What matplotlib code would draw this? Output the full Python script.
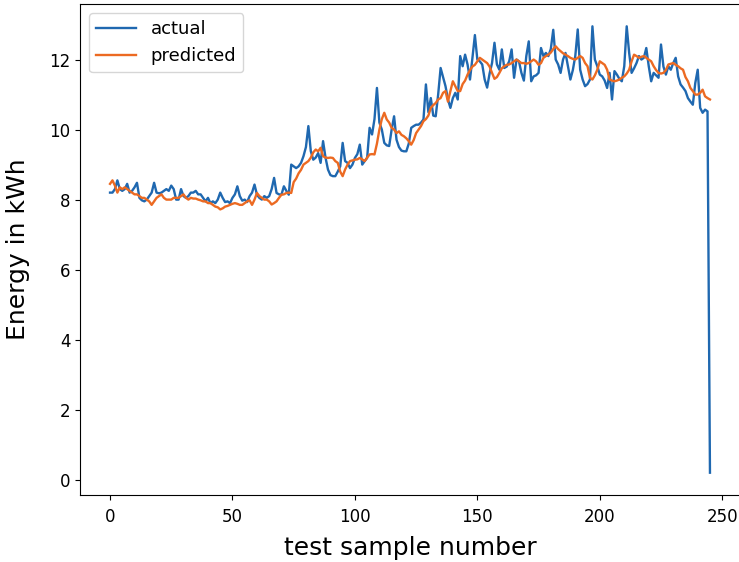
import numpy as np
import matplotlib
matplotlib.use("Agg")
import matplotlib.pyplot as plt

# values, index 0..245
actual = [
    8.2, 8.2, 8.3, 8.55, 8.3, 8.25, 8.3, 8.45, 8.2, 8.25,
    8.35, 8.48, 8.05, 7.98, 7.95, 8.0, 8.1, 8.2, 8.48, 8.2,
    8.18, 8.2, 8.25, 8.3, 8.25, 8.4, 8.3, 8.0, 8.0, 8.3,
    8.1, 8.05, 8.1, 8.2, 8.2, 8.25, 8.15, 8.15, 8.05, 7.95,
    8.05, 7.9, 7.95, 7.9, 8.0, 8.2, 8.05, 7.93, 7.95, 7.9,
    8.05, 8.15, 8.38, 8.1, 7.97, 8.0, 7.93, 8.1, 8.2, 8.43,
    8.14, 8.05, 8.0, 8.1, 8.05, 8.1, 8.3, 8.62, 8.19, 8.15,
    8.14, 8.38, 8.25, 8.14, 9.0, 8.95, 8.9, 8.95, 9.05, 9.24,
    9.5, 10.1, 9.38, 9.14, 9.2, 9.33, 9.05, 9.67, 9.2, 8.86,
    8.7, 8.67, 8.67, 8.8, 8.95, 9.62, 9.1, 9.05, 8.9, 9.0,
    9.19, 9.3, 9.57, 9.0, 9.1, 9.19, 10.05, 9.86, 10.3, 11.19,
    10.2, 10.0, 9.62, 9.55, 9.53, 10.0, 10.38, 9.71, 9.5, 9.4,
    9.38, 9.38, 9.6, 10.05, 10.1, 10.14, 10.14, 10.2, 10.29, 11.29,
    10.5, 10.9, 10.4, 10.38, 11.0, 11.76, 11.5, 11.24, 10.86, 10.62,
    10.9, 11.05, 10.86, 12.1, 11.81, 12.14, 11.86, 11.43, 12.05, 12.7,
    12.0, 11.95, 11.86, 11.43, 11.2, 11.6, 11.9, 12.48, 11.86, 11.71,
    12.29, 11.76, 11.8, 11.95, 12.29, 11.48, 12.0, 11.95, 11.62, 11.4,
    12.1, 12.52, 11.38, 11.52, 11.55, 11.62, 12.33, 12.1, 12.19, 12.1,
    12.3, 12.85, 12.0, 11.86, 11.62, 12.0, 12.19, 11.81, 11.43, 11.7,
    12.1, 12.86, 11.71, 11.43, 11.24, 11.3, 11.43, 12.95, 12.0, 11.81,
    11.57, 11.52, 11.4, 11.19, 11.62, 10.86, 11.67, 11.57, 11.45, 11.38,
    11.81, 12.95, 12.19, 11.62, 11.75, 11.9, 12.1, 12.0, 12.05, 12.33,
    11.81, 11.38, 11.62, 11.55, 11.48, 12.43, 11.8, 11.57, 11.81, 11.71,
    11.9, 12.05, 11.52, 11.29, 11.2, 11.1, 10.9, 10.8, 10.71, 11.33,
    11.71, 10.62, 10.48, 10.57, 10.52, 0.2,
]

predicted = [
    8.45, 8.55, 8.4, 8.2, 8.35, 8.3, 8.35, 8.3, 8.25, 8.2,
    8.15, 8.15, 8.1, 8.05, 8.05, 8.0, 7.95, 7.85, 7.95, 8.05,
    8.1, 8.15, 8.05, 8.0, 8.0, 8.0, 8.05, 8.05, 8.05, 8.1,
    8.15, 8.05, 8.0, 8.05, 8.03, 8.03, 8.0, 7.98, 7.95, 7.95,
    7.9, 7.9, 7.85, 7.8, 7.78, 7.72, 7.75, 7.8, 7.82, 7.85,
    7.88, 7.9, 7.88, 7.85, 7.85, 7.9, 7.95, 7.98, 7.85, 8.0,
    8.19, 8.1, 8.05, 8.0, 8.0, 7.95, 7.86, 7.9, 7.95, 8.05,
    8.14, 8.15, 8.19, 8.2, 8.19, 8.5, 8.6, 8.75, 8.85, 9.0,
    9.05, 9.1, 9.2, 9.35, 9.43, 9.38, 9.48, 9.24, 9.2, 9.19,
    9.2, 9.19, 9.1, 9.05, 8.8, 8.67, 8.86, 9.0, 9.1, 9.12,
    9.14, 9.15, 9.19, 9.15, 9.1, 9.2, 9.29, 9.3, 9.29, 9.6,
    10.0, 10.3, 10.48, 10.29, 10.2, 10.05, 10.0, 9.9, 9.95, 9.85,
    9.81, 9.75, 9.67, 9.57, 9.7, 9.9, 10.0, 10.1, 10.24, 10.3,
    10.4, 10.62, 10.7, 10.76, 10.86, 10.9, 11.05, 11.1, 10.8, 11.1,
    11.38, 11.24, 11.1, 11.1, 11.3, 11.4, 11.57, 11.7, 11.8, 11.85,
    11.95, 12.05, 12.0, 11.95, 11.9, 11.8, 11.62, 11.45, 11.5, 11.62,
    11.75, 11.81, 11.85, 11.86, 11.9, 11.95, 12.0, 11.95, 11.9, 11.9,
    11.88, 11.9, 11.95, 12.0, 11.95, 11.85, 11.9, 12.05, 12.1, 12.14,
    12.2, 12.3, 12.38, 12.3, 12.24, 12.18, 12.14, 12.1, 12.05, 12.02,
    12.0, 12.05, 12.1, 12.05, 11.9, 11.81, 11.48, 11.43, 11.55, 11.71,
    11.95, 11.9, 11.85, 11.71, 11.43, 11.4, 11.38, 11.4, 11.43, 11.48,
    11.52, 11.6, 11.71, 11.95, 12.14, 12.1, 12.05, 12.08, 12.1, 12.05,
    12.0, 11.95, 11.81, 11.7, 11.62, 11.6, 11.62, 11.7, 11.86, 11.88,
    11.9, 11.85, 11.81, 11.75, 11.71, 11.5, 11.38, 11.19, 11.1, 11.0,
    11.0, 11.05, 11.14, 10.95, 10.9, 10.86,
]

fig = plt.figure(figsize=(7.39, 5.62), dpi=100)
ax = fig.add_axes([0.1083, 0.1192, 0.893, 0.8737])

ax.plot(actual, color="#1f68b0", lw=1.7, label="actual")
ax.plot(predicted, color="#ec6a22", lw=1.7, label="predicted")

ax.set_xticks([0, 50, 100, 150, 200, 250])
ax.set_yticks([0, 2, 4, 6, 8, 10, 12])
ax.tick_params(labelsize=12)
ax.tick_params(axis="x", pad=6)
ax.set_xlabel("test sample number", fontsize=18, labelpad=7)
ax.set_ylabel("Energy in kWh", fontsize=18, labelpad=14)
ax.legend(loc="upper left", fontsize=13, handlelength=2.2)

fig.savefig("out.png", dpi=100)
